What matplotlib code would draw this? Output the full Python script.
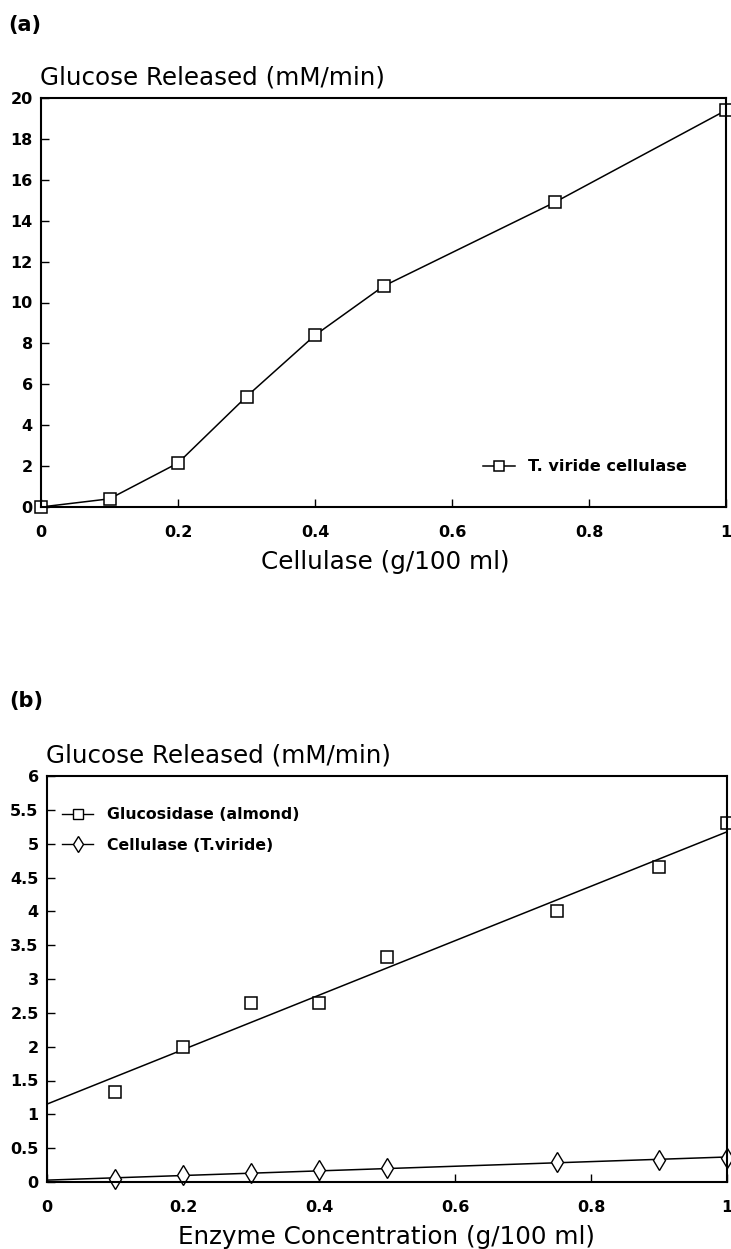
import numpy as np
import matplotlib.pyplot as plt

plt.rcParams['font.family'] = ['DejaVu Sans']

# (a) T. viride cellulase
cel_x = [0, 0.1, 0.2, 0.3, 0.4, 0.5, 0.75, 1.0]
cel_y = [0, 0.4, 2.15, 5.4, 8.4, 10.8, 14.9, 19.4]

# (b) enzyme concentration series
enz_x = [0.1, 0.2, 0.3, 0.4, 0.5, 0.75, 0.9, 1.0]
glu_y = [1.33, 2.0, 2.65, 2.65, 3.33, 4.0, 4.65, 5.3]
tv_y = [0.05, 0.1, 0.13, 0.17, 0.2, 0.3, 0.33, 0.36]

xticks = [0, 0.2, 0.4, 0.6, 0.8, 1]
xticklabels = ['0', '0.2', '0.4', '0.6', '0.8', '1']
yticks_a = list(range(0, 21, 2))
yticks_b = [0, 0.5, 1, 1.5, 2, 2.5, 3, 3.5, 4, 4.5, 5, 5.5, 6]
yticklabels_b = ['0', '0.5', '1', '1.5', '2', '2.5', '3', '3.5', '4', '4.5', '5', '5.5', '6']

W, H = 731, 1249
fig = plt.figure(figsize=(W / 100, H / 100), dpi=100)

def px_axes(l, t, r, b):
    return fig.add_axes([l / W, 1 - b / H, (r - l) / W, (b - t) / H])

def style(ax):
    for s in ax.spines.values():
        s.set_linewidth(1.5)
    ax.tick_params(axis='y', direction='in', length=6, width=1, pad=6, labelsize=11.5)
    ax.tick_params(axis='x', direction='in', length=6, width=1, pad=13, labelsize=11.5)
    for lab in ax.get_xticklabels() + ax.get_yticklabels():
        lab.set_fontweight('bold')

def ftext(x, y, s, **kw):
    fig.text(x / W, 1 - y / H, s, va='center', **kw)

# panel (a)
ax1 = px_axes(41, 98, 726, 507)
ax1.plot(cel_x, cel_y, '-', color='black', lw=1.1, marker='s', ms=9,
         mfc='white', mec='black', mew=1.1, clip_on=False,
         label='T. viride cellulase')
ax1.set_xlim(0, 1)
ax1.set_ylim(0, 20)
ax1.set_xticks(xticks)
ax1.set_xticklabels(xticklabels)
ax1.set_yticks(yticks_a)
style(ax1)
ax1.legend(loc='center left', frameon=False, handlelength=2.0, handletextpad=0.8,
           borderpad=0, borderaxespad=0, markerscale=0.75,
           prop={'weight': 'bold', 'size': 11.6}, bbox_to_anchor=(0.645, 0.098))
ftext(8, 25, '(a)', fontsize=15, fontweight='bold')
ftext(40, 78, 'Glucose Released (mM/min)', fontsize=17.7)
ftext(385, 562, 'Cellulase (g/100 ml)', fontsize=17.7, ha='center')

# panel (b)
ax2 = px_axes(47, 776, 727, 1182)
fx = np.linspace(0, 1, 50)
p1 = np.polyfit(enz_x, glu_y, 1)
p2 = np.polyfit(enz_x, tv_y, 1)
ax2.plot(fx, np.polyval(p1, fx), '-', color='black', lw=1.1)
ax2.plot(fx, np.polyval(p2, fx), '-', color='black', lw=1.1)
ax2.plot(enz_x, glu_y, 's', ms=9, mfc='white', mec='black', mew=1.1, clip_on=False)
ax2.plot(enz_x, tv_y, 'd', ms=10, mfc='white', mec='black', mew=1.0, clip_on=False)
h1, = ax2.plot([], [], '-', color='black', lw=1.0, marker='s', ms=7, mfc='white', mec='black')
h2, = ax2.plot([], [], '-', color='black', lw=1.0, marker='d', ms=8, mfc='white', mec='black')
ax2.legend([h1, h2], ['Glucosidase (almond)', 'Cellulase (T.viride)'], loc='center left',
           frameon=False, handlelength=2.0, handletextpad=0.9, labelspacing=1.0,
           borderpad=0, borderaxespad=0,
           prop={'weight': 'bold', 'size': 11.3}, bbox_to_anchor=(0.022, 0.867))
ax2.set_xlim(0, 1)
ax2.set_ylim(0, 6)
ax2.set_xticks(xticks)
ax2.set_xticklabels(xticklabels)
ax2.set_yticks(yticks_b)
ax2.set_yticklabels(yticklabels_b)
style(ax2)
ftext(9, 701, '(b)', fontsize=15, fontweight='bold')
ftext(46, 755, 'Glucose Released (mM/min)', fontsize=17.7)
ftext(386, 1237, 'Enzyme Concentration (g/100 ml)', fontsize=17.7, ha='center')

fig.savefig('out.png', dpi=100)
